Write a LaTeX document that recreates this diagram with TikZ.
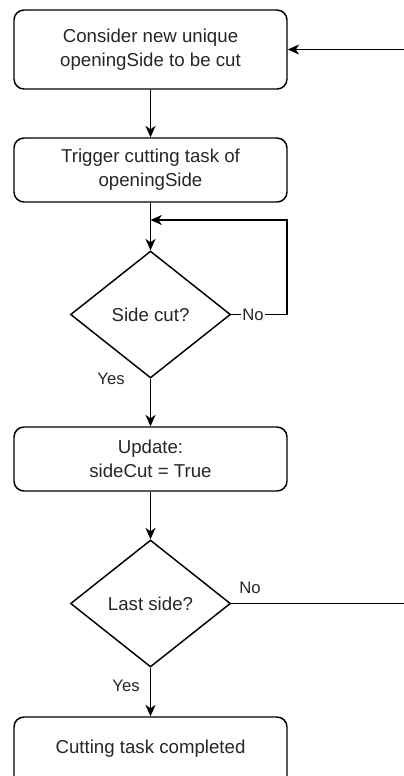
\documentclass[tikz,border=0pt]{standalone}
\usepackage{fontspec}
\setmainfont{Liberation Sans}
\usetikzlibrary{shapes.geometric,arrows.meta}
\begin{document}
\begin{tikzpicture}[x=0.75pt,y=-0.75pt,
  line width=1.1pt,
  every node/.style={font=\fontsize{14}{18}\selectfont, text=black!85},
  procbox/.style={draw, rounded corners=7.5pt, minimum width=204.75pt, minimum height=48pt, align=center, inner sep=0pt},
  decision/.style={draw, diamond, minimum width=120pt, minimum height=95.25pt, inner sep=0pt, align=center},
  flow/.style={draw, -{Stealth[length=8.5pt,width=7.5pt,inset=2.5pt]}},
  lbl/.style={font=\fontsize{12.5}{15}\selectfont, fill=white, inner sep=1pt}]
  \useasboundingbox (0,0) rectangle (404,776);
  \clip (0,0) rectangle (404,776);

  % process steps and decisions
  \node[procbox, minimum height=59.25pt] (consider) at (150.5,49.5) {Consider new unique\\openingSide to be cut};
  \node[procbox] (trigger) at (150.5,170) {Trigger cutting task of\\openingSide};
  \node[decision] (sidecut) at (150.5,314.5) {Side cut?};
  \node[procbox] (update) at (150.5,459) {Update:\\sideCut = True};
  \node[decision] (lastside) at (150.5,603.5) {Last side?};
  \node[procbox, minimum height=54pt, text height=10pt, text depth=9pt] (done) at (150.5,753) {Cutting task completed};

  % helper points of the two loops
  \coordinate (waitjoin) at (150.5,220);
  \coordinate (waitcorner) at (287,314.5);
  \coordinate (waittop) at (287,220);
  \coordinate (backlow) at (420,603.5);
  \coordinate (backhigh) at (420,49.5);

  % main flow
  \draw[flow] (consider) -- (trigger);
  \draw[flow] (trigger) -- (sidecut);
  \draw[flow] (sidecut) -- (update);
  \draw[flow] (update) -- (lastside);
  \draw[flow] (lastside) -- (done);

  % waiting loop of the side cut check
  \draw[flow] (sidecut.east) -- (waitcorner) -- (waittop) -- (waitjoin);
  \node[lbl] (nocut) at (253,315) {No};

  % back to the next opening side
  \draw[flow] (lastside.east) -- (backlow) -- (backhigh) -- (consider.east);
  \node[lbl] (nolast) at (250,588) {No};

  % yes labels
  \node[lbl] (yescut) at (111,379) {Yes};
  \node[lbl] (yeslast) at (126,686) {Yes};
\end{tikzpicture}
\end{document}
